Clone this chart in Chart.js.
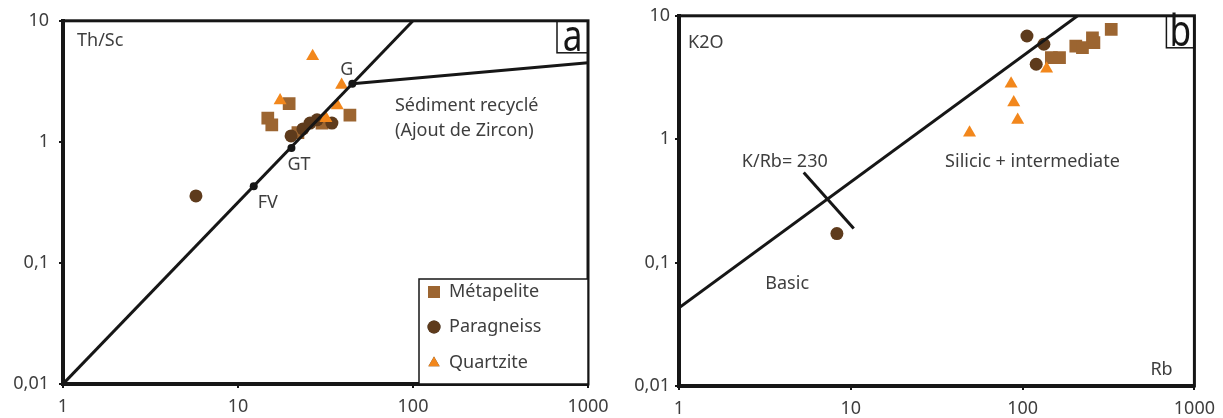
<!DOCTYPE html>
<html>
<head>
<meta charset="utf-8">
<script src="https://cdn.jsdelivr.net/npm/chart.js@4.4.1/dist/chart.umd.min.js"></script>
<style>
  body { margin: 0; background: #fff; width: 1223px; height: 418px; position: relative; overflow: hidden; }
  canvas { position: absolute; top: 0; }
  #chartA { left: 0; }
  #chartB { left: 615px; }
</style>
</head>
<body>
<canvas id="chartA" width="620" height="418"></canvas>
<canvas id="chartB" width="608" height="418"></canvas>
<script>
// ---- data ----
const xTicks = [1, 10, 100, 1000];
const yTicks = [0.01, 0.1, 1, 10];
const legendLabels = ['Métapelite', 'Paragneiss', 'Quartzite'];

// (a) Th/Sc vs Zr/Sc
const metapeliteA = [
    { x: 19.6, y: 2.07 }, { x: 14.8, y: 1.57 }, { x: 15.6, y: 1.38 },
    { x: 43.6, y: 1.66 }, { x: 22.0, y: 1.19 }, { x: 30.2, y: 1.43 }
];
const paragneissA = [
    { x: 5.75, y: 0.358 }, { x: 20.1, y: 1.12 }, { x: 23.5, y: 1.28 },
    { x: 25.8, y: 1.43 }, { x: 28.3, y: 1.52 }, { x: 34.4, y: 1.43 }
];
const quartziteA = [
    { x: 26.7, y: 5.1 }, { x: 39.1, y: 2.95 }, { x: 17.4, y: 2.2 },
    { x: 36.9, y: 2.0 }, { x: 31.8, y: 1.57 }
];
const compositionLine = [{ x: 1, y: 0.01 }, { x: 100, y: 10 }];
const recyclingLine = [{ x: 45, y: 3.02 }, { x: 1000, y: 4.5 }];
const keyNames = ['FV', 'GT', 'G'];
const keyPoints = [{ x: 12.3, y: 0.43 }, { x: 20.2, y: 0.89 }, { x: 45, y: 3.02 }];

// (b) K2O vs Rb
const metapeliteB = [
    { x: 328, y: 7.76 }, { x: 255, y: 6.64 }, { x: 260, y: 6.05 }, { x: 204, y: 5.69 },
    { x: 223, y: 5.52 }, { x: 164, y: 4.58 }, { x: 147, y: 4.58 }
];
const paragneissB = [
    { x: 106, y: 6.86 }, { x: 133, y: 5.88 }, { x: 120, y: 4.05 }, { x: 8.3, y: 0.172 }
];
const quartziteB = [
    { x: 138, y: 3.73 }, { x: 85.7, y: 2.82 }, { x: 88.8, y: 1.98 },
    { x: 93.6, y: 1.43 }, { x: 49.1, y: 1.13 }
];
const kRbLine = [{ x: 1, y: 0.043 }, { x: 209, y: 10 }];
const kRbMark = [{ x: 5.32, y: 0.536 }, { x: 10.4, y: 0.189 }];

// ---- styles ----
const FONT = '"Noto Sans", "Open Sans", sans-serif';
const TEXT_COLOR = '#3e3e3e';
const INK = '#161616';
const COLORS = { metapelite: '#9c6531', paragneiss: '#5e3b1c', quartzite: '#f2871c' };

const fmtTick = v => String(v).replace('.', ',');

function sampleSets(meta, para, quartz) {
    return [
        { label: legendLabels[2], data: quartz, pointStyle: 'triangle', pointRadius: 7.5,
          backgroundColor: COLORS.quartzite, borderWidth: 0, order: 1 },
        { label: legendLabels[1], data: para, pointStyle: 'circle', pointRadius: 6.5,
          backgroundColor: COLORS.paragneiss, borderWidth: 0, order: 2 },
        { label: legendLabels[0], data: meta, pointStyle: 'rect', pointRadius: 9,
          backgroundColor: COLORS.metapelite, borderWidth: 0, order: 3 }
    ];
}

function lineSet(data) {
    return { data: data, showLine: true, pointRadius: 0, borderColor: INK,
             borderWidth: 3, order: 0 };
}

function logAxis(min, max, values, fit, isX, pad) {
    return {
        type: 'logarithmic',
        min: min,
        max: max,
        afterBuildTicks: s => { s.ticks = values.map(v => ({ value: v })); },
        afterFit: s => { if (isX) s.height = fit; else s.width = fit; },
        ticks: {
            font: { family: FONT, size: 18 },
            color: TEXT_COLOR,
            padding: pad,
            autoSkip: false,
            maxRotation: 0,
            callback: v => fmtTick(v)
        },
        grid: { display: true, drawOnChartArea: false, drawTicks: true, tickLength: 4, color: INK, lineWidth: 2 },
        border: { display: true, color: INK, width: 4 }
    };
}

// frame, panel letter, text notes and legend
const panelDecor = {
    id: 'panelDecor',
    afterDatasetsDraw(chart, args, opts) {
        const { ctx, chartArea: a, scales: { x, y } } = chart;
        ctx.save();
        ctx.strokeStyle = INK;
        ctx.lineWidth = 3;
        ctx.strokeRect(a.left, a.top, a.right - a.left, a.bottom - a.top);

        // letter box in the top right corner
        const bw = opts.letterBox[0], bh = opts.letterBox[1];
        ctx.lineWidth = 1.5;
        ctx.strokeRect(a.right - bw, a.top, bw, bh);
        ctx.fillStyle = INK;
        ctx.font = '44px ' + FONT;
        ctx.textAlign = 'center';
        ctx.textBaseline = 'alphabetic';
        ctx.save();
        ctx.translate(a.right - bw / 2, a.top + bh - 2);
        ctx.scale(0.8, 1);
        ctx.fillText(opts.letter, 0, 0);
        ctx.restore();

        ctx.font = '18px ' + FONT;
        ctx.fillStyle = TEXT_COLOR;
        ctx.textAlign = 'left';
        (opts.notes || []).forEach(n => {
            ctx.fillText(n.text, x.getPixelForValue(n.x), y.getPixelForValue(n.y));
        });
        (opts.corner || []).forEach(n => {
            const px = n.dx >= 0 ? a.left + n.dx : a.right + n.dx;
            const py = n.dy >= 0 ? a.top + n.dy : a.bottom + n.dy;
            ctx.fillText(n.text, px, py);
        });
        (opts.keyLabels || []).forEach((name, i) => {
            const p = keyPoints[i];
            const o = opts.keyOffsets[i];
            ctx.fillText(name, x.getPixelForValue(p.x) + o[0], y.getPixelForValue(p.y) + o[1]);
        });

        if (opts.legend) {
            const lw = 169, lh = 105;
            const lx = a.right - lw, ly = a.bottom - lh;
            ctx.fillStyle = '#fff';
            ctx.fillRect(lx, ly, lw, lh);
            ctx.strokeStyle = INK;
            ctx.lineWidth = 1.5;
            ctx.strokeRect(lx, ly, lw, lh);
            const rows = [13, 48, 84];
            legendLabels.forEach((label, i) => {
                const ds = chart.data.datasets.find(d => d.label === label);
                const cy = ly + rows[i];
                Chart.helpers.drawPoint(ctx, {
                    pointStyle: ds.pointStyle,
                    radius: ds.pointStyle === 'rect' ? 8.5 : 6.5,
                    rotation: 0,
                    borderWidth: 0
                }, lx + 15, cy);
                ctx.fillStyle = ds.backgroundColor;
                ctx.fill();
                ctx.fillStyle = TEXT_COLOR;
                ctx.textBaseline = 'middle';
                ctx.fillText(label, lx + 30, cy);
            });
        }
        ctx.restore();
    }
};

function makeChart(id, datasets, padding, yWidth, xHeight, yPad, decor) {
    return new Chart(document.getElementById(id), {
        type: 'scatter',
        data: { datasets: datasets },
        options: {
            responsive: false,
            animation: false,
            layout: { padding: padding },
            plugins: { legend: { display: false }, tooltip: { enabled: false }, panelDecor: decor },
            scales: {
                x: logAxis(1, 1000, xTicks, xHeight, true, 8),
                y: logAxis(0.01, 10, yTicks, yWidth, false, yPad)
            }
        },
        plugins: [panelDecor]
    });
}

// (a) Th/Sc
makeChart('chartA', [
    lineSet(compositionLine),
    lineSet(recyclingLine),
    { data: keyPoints, pointRadius: 4, backgroundColor: INK, borderWidth: 0, order: 0 },
    ...sampleSets(metapeliteA, paragneissA, quartziteA)
], { left: 0, top: 14, right: 32, bottom: 0 }, 63, 34, 10, {
    letter: 'a',
    letterBox: [31, 32],
    notes: [
        { text: 'Sédiment recyclé', x: 78.9, y: 1.79 },
        { text: '(Ajout de Zircon)', x: 78.9, y: 1.12 }
    ],
    corner: [{ text: 'Th/Sc', dx: 14, dy: 25 }],
    keyLabels: keyNames,
    keyOffsets: [[4, 22], [-4, 22], [-12, -9]],
    legend: true
});

// (b) K2O
makeChart('chartB', [
    lineSet(kRbLine),
    lineSet(kRbMark),
    ...sampleSets(metapeliteB, paragneissB, quartziteB)
], { left: 0, top: 15, right: 24, bottom: 0 }, 64, 32, 5, {
    letter: 'b',
    letterBox: [28, 32],
    notes: [
        { text: 'K/Rb= 230', x: 2.32, y: 0.6 },
        { text: 'Basic', x: 3.18, y: 0.0608 },
        { text: 'Silicic + intermediate', x: 35.4, y: 0.6 }
    ],
    corner: [{ text: 'K2O', dx: 9, dy: 32 }, { text: 'Rb', dx: -44, dy: -11 }],
    legend: false
});
</script>
</body>
</html>
